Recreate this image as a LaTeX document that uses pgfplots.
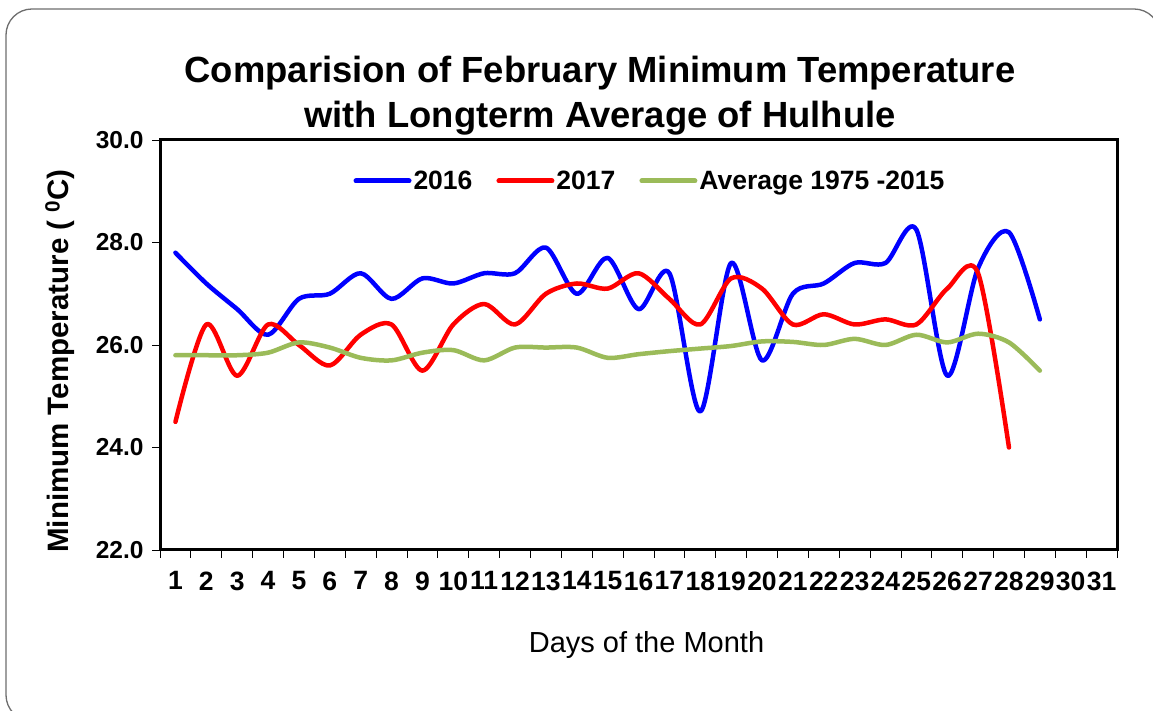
\documentclass[border=0pt]{standalone}
\usepackage{pgfplots}
\pgfplotsset{compat=1.18}
\usepackage{fontspec}
\setmainfont{Liberation Sans}
\definecolor{cA}{RGB}{0,0,255}
\definecolor{cB}{RGB}{255,0,0}
\definecolor{cC}{RGB}{155,187,89}
\definecolor{frame}{RGB}{110,110,110}

\pgfplotstableread{
d t
1 27.8
2 27.2
3 26.7
4 26.2
5 26.9
6 27.0
7 27.4
8 26.9
9 27.3
10 27.2
11 27.4
12 27.4
13 27.9
14 27.0
15 27.7
16 26.7
17 27.4
18 24.7
19 27.6
20 25.7
21 27.0
22 27.2
23 27.6
24 27.6
25 28.25
26 25.4
27 27.5
28 28.2
29 26.5
}\tabA
\pgfplotstableread{
d t
1 24.5
2 26.4
3 25.4
4 26.4
5 26.0
6 25.6
7 26.2
8 26.4
9 25.5
10 26.4
11 26.8
12 26.4
13 27.0
14 27.2
15 27.1
16 27.4
17 26.9
18 26.4
19 27.3
20 27.1
21 26.4
22 26.6
23 26.4
24 26.5
25 26.4
26 27.1
27 27.4
28 24.0
}\tabB
\pgfplotstableread{
d t
1 25.8
2 25.8
3 25.8
4 25.85
5 26.05
6 25.95
7 25.75
8 25.7
9 25.85
10 25.9
11 25.7
12 25.95
13 25.95
14 25.95
15 25.75
16 25.82
17 25.88
18 25.93
19 25.98
20 26.07
21 26.06
22 26.0
23 26.12
24 26.0
25 26.2
26 26.05
27 26.22
28 26.05
29 25.5
}\tabC

\begin{document}
\begin{tikzpicture}[x=1bp,y=1bp]
\useasboundingbox (0,0) rectangle (1153,711);
\fill[white] (0,0) rectangle (1153,711);
\draw[frame, line width=1.3bp, rounded corners=26bp] (6,-10) rectangle (1160,702);
\begin{axis}[
  at={(160bp,161bp)}, anchor=south west,
  scale only axis, width=957bp, height=410bp,
  xmin=0.5, xmax=31.5, ymin=22, ymax=30,
  axis line style={line width=3bp},
  xtick={1,...,31},
  minor xtick={0.5,1.5,...,31.5},
  every major x tick/.append style={draw=none},
  ytick={22,24,26,28,30},
  tick align=outside,
  major tick length=8bp, minor tick length=8bp,
  tick style={black, line width=0.8bp},
  axis x line*=bottom, axis y line*=left,
  /pgf/number format/assume math mode=true,
  yticklabel={\pgfmathprintnumber[fixed,fixed zerofill,precision=1]{\tick}},
  yticklabel style={font=\bfseries\fontsize{24.5bp}{26bp}\selectfont, xshift=-5bp},
  xticklabel style={font=\bfseries\fontsize{26.5bp}{28bp}\selectfont, yshift=-10bp, inner xsep=0bp},
  legend style={at={(0.512,0.9)}, anchor=center, draw=none, fill=none,
    legend columns=3, font=\bfseries\fontsize{26.5bp}{28bp}\selectfont,
    nodes={inner sep=2bp},
    /tikz/every even column/.append style={column sep=22bp}},
  legend image code/.code={\draw[#1, line width=5bp, line cap=round] (0bp,0bp) -- (53bp,0bp);},
  every axis plot/.append style={line width=4.5bp, line cap=round, line join=round, smooth, tension=0.5},
  clip=false,
]
\draw[line width=3bp] (rel axis cs:0,0) rectangle (rel axis cs:1,1);
\addplot[cA] table[x=d,y=t] {\tabA};
\addlegendentry{2016}
\addplot[cB] table[x=d,y=t] {\tabB};
\addlegendentry{2017}
\addplot[cC] table[x=d,y=t] {\tabC};
\addlegendentry{Average 1975 -2015}
\end{axis}
\node[anchor=base, font=\bfseries\fontsize{36.4bp}{40bp}\selectfont] at (600,628.3) {Comparision of February Minimum Temperature};
\node[anchor=base, font=\bfseries\fontsize{36.4bp}{40bp}\selectfont] at (600,583) {with Longterm Average of Hulhule};
\node[font=\fontsize{29bp}{32bp}\selectfont] at (646.5,66) {Days of the Month};
\node[rotate=90, font=\bfseries\fontsize{29.5bp}{32bp}\selectfont] at (60,350) {Minimum Temperature ( \textsuperscript{0}C)};
\end{tikzpicture}
\end{document}
